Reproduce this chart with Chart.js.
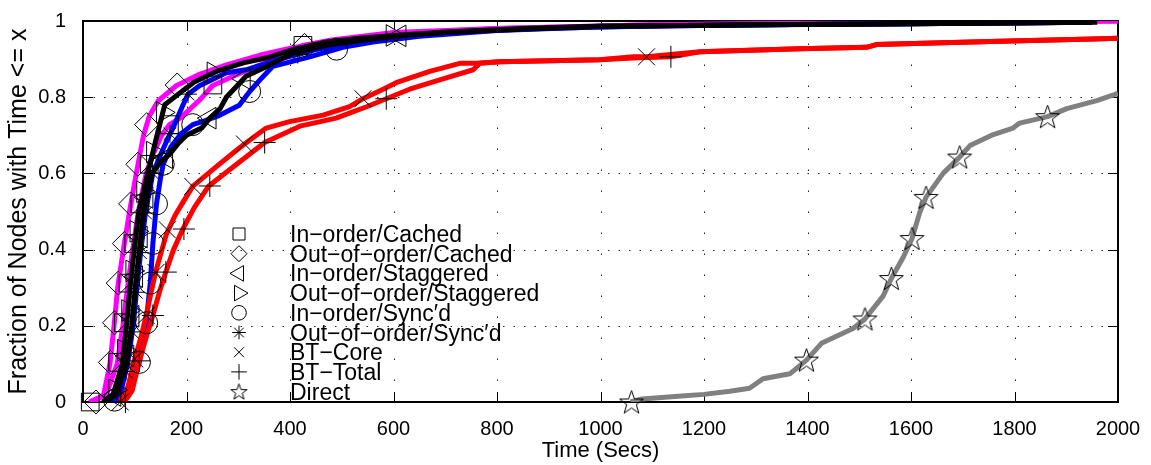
<!DOCTYPE html>
<html><head><meta charset="utf-8">
<script src="https://cdn.jsdelivr.net/npm/chart.js@4/dist/chart.umd.min.js"></script>
<style>html,body{margin:0;padding:0;background:#fff}#wrap{width:1151px;height:465px}</style>
</head><body><div id="wrap"><canvas id="c" width="1151" height="465"></canvas></div>
<script>
// ---------- tick values / labels ----------
const xTickValues = [0,200,400,600,800,1000,1200,1400,1600,1800,2000];
const xTickLabels = ['0','200','400','600','800','1000','1200','1400','1600','1800','2000'];
const yTickValues = [0,0.2,0.4,0.6,0.8,1];
const yTickLabels = ['0','0.2','0.4','0.6','0.8','1'];

// ---------- legend labels ----------
const seriesNames = ['In\u2212order/Cached','Out\u2212of\u2212order/Cached','In\u2212order/Staggered','Out\u2212of\u2212order/Staggered','In\u2212order/Sync\u2032d','Out\u2212of\u2212order/Sync\u2032d','BT\u2212Core','BT\u2212Total','Direct'];

// ---------- series (time in secs, fraction of nodes) ----------
const ioCachedT  = [12,45,66,77,86,96,107,122,135,152,167,188,228,250,290,350,380,425,480,600,800,1100,1500,2000];
const ioCachedF  = [0,0.02,0.1,0.2,0.3,0.4,0.5,0.6,0.65,0.7,0.728,0.745,0.796,0.83,0.855,0.889,0.91,0.936,0.95,0.97,0.98,0.99,0.995,1.0];
const ioCachedMT = [14,67,78,87,98,110,128,167,251,425];
const ioCachedMF = [0,0.104,0.208,0.312,0.416,0.52,0.624,0.728,0.832,0.936];

const oooCachedT  = [22,40,52,60,67,78,90,103,117,128,145,180,225,277,341,405,470,535,650,800,1100,1500,2000];
const oooCachedF  = [0,0.02,0.1,0.2,0.3,0.4,0.5,0.6,0.7,0.75,0.79,0.83,0.86,0.885,0.91,0.93,0.945,0.957,0.97,0.98,0.99,0.995,1.0];
const oooCachedMT = [25,53,61,68,80,92,106,123,182,428];
const oooCachedMF = [0,0.104,0.208,0.312,0.416,0.52,0.624,0.728,0.832,0.936];

const ioStagT  = [44,64,84,94,101,109,117,133,150,167,185,200,230,245,265,277,315,354,405,470,560,612,700,850,1000,1300,1600,1950];
const ioStagF  = [0,0.02,0.1,0.2,0.3,0.4,0.5,0.6,0.63,0.65,0.68,0.7,0.72,0.745,0.77,0.8,0.855,0.88,0.915,0.936,0.953,0.961,0.97,0.979,0.986,0.99,0.993,0.997];
const ioStagMT = [61,86,96,103,112,123,161,245,311,612];
const ioStagMF = [0.017,0.121,0.225,0.329,0.433,0.537,0.641,0.745,0.849,0.961];

const oooStagT  = [38,58,76,84,91,99,108,125,143,158,186,215,262,310,360,405,470,535,600,700,850,1000,1300,1600,1960];
const oooStagF  = [0,0.02,0.1,0.2,0.3,0.4,0.5,0.6,0.7,0.78,0.81,0.84,0.87,0.89,0.905,0.925,0.945,0.955,0.962,0.971,0.98,0.986,0.99,0.993,0.997];
const oooStagMT = [62,79,87,95,103,116,135,154,252,598];
const oooStagMF = [0.032,0.136,0.24,0.344,0.448,0.552,0.656,0.76,0.864,0.962];

const ioSyncT  = [55,80,95,108,116,122,126,130,135,142,150,155,170,190,212,235,260,302,322,345,367,438,502,560,650,800,1000,1300,1600,1950];
const ioSyncF  = [0,0.02,0.06,0.1,0.15,0.2,0.26,0.312,0.416,0.52,0.59,0.624,0.67,0.705,0.728,0.738,0.75,0.779,0.815,0.85,0.881,0.906,0.931,0.945,0.96,0.975,0.985,0.99,0.993,0.997];
const ioSyncMT = [61,109,123,130,135,142,155,212,322,490];
const ioSyncMF = [0.005,0.104,0.208,0.312,0.416,0.52,0.624,0.728,0.815,0.926];

const oooSyncT  = [52,72,86,97,104,112,121,135,148,160,174,193,203,225,277,315,380,450,530,620,750,900,1100,1400,1700,1950];
const oooSyncF  = [0,0.02,0.1,0.2,0.3,0.4,0.5,0.6,0.643,0.68,0.72,0.779,0.808,0.83,0.864,0.872,0.9,0.925,0.945,0.962,0.973,0.981,0.987,0.991,0.994,0.997];
const oooSyncMT = [83,95,103,111,121,135,168,203,415];
const oooSyncMF = [0.08,0.184,0.288,0.392,0.496,0.6,0.704,0.808,0.912];

const btCoreT  = [70,85,100,112,122,132,141,161,178,193,212,257,296,312,354,399,464,515,541,580,605,670,728,760,805,998,1063,1089,1192,1385,1514,1533,1643,1772,1952,2000];
const btCoreF  = [0,0.03,0.113,0.17,0.227,0.29,0.345,0.44,0.49,0.524,0.566,0.617,0.66,0.677,0.719,0.736,0.753,0.775,0.796,0.821,0.838,0.868,0.889,0.889,0.893,0.898,0.906,0.906,0.919,0.927,0.931,0.938,0.942,0.947,0.953,0.955];
const btCoreMT = [72,100,122,141,163,212,312,541,1089];
const btCoreMF = [0,0.113,0.227,0.34,0.452,0.566,0.677,0.796,0.906];

const btTotalT  = [80,95,109,122,135,148,160,175,193,215,243,290,351,419,489,548,586,631,702,754,767,805,998,1063,1136,1192,1385,1514,1533,1643,1772,1952,2000];
const btTotalF  = [0,0.03,0.108,0.17,0.227,0.29,0.341,0.4,0.454,0.51,0.567,0.617,0.681,0.724,0.745,0.775,0.796,0.821,0.851,0.872,0.889,0.893,0.898,0.903,0.906,0.919,0.927,0.931,0.938,0.942,0.947,0.953,0.955];
const btTotalMT = [82,109,135,160,195,245,351,586,1136];
const btTotalMF = [0,0.108,0.227,0.341,0.454,0.567,0.681,0.796,0.906];

const directT  = [1058,1080,1150,1200,1250,1288,1314,1366,1398,1427,1488,1511,1546,1562,1585,1602,1617,1629,1662,1694,1714,1759,1797,1810,1864,1901,1959,2000];
const directF  = [0,0.008,0.015,0.02,0.028,0.036,0.061,0.074,0.11,0.154,0.193,0.218,0.278,0.324,0.38,0.429,0.498,0.537,0.6,0.643,0.673,0.702,0.719,0.732,0.749,0.77,0.791,0.81];
const directMT = [1060,1398,1511,1562,1602,1629,1694,1864];
const directMF = [0,0.11,0.218,0.324,0.429,0.537,0.643,0.749];

// ---------- helpers ----------
const FONT = 'Liberation Sans, Arial, Helvetica, sans-serif';
function makeStar(R){
  const s = Math.ceil(2*R+4), c = document.createElement('canvas');
  c.width = s; c.height = s;
  const g = c.getContext('2d'); g.strokeStyle = '#000'; g.lineWidth = 1;
  g.beginPath();
  for (let k=0;k<10;k++){
    const r = k%2===0 ? R : R*0.4;
    const a = -Math.PI/2 + k*Math.PI/5;
    const px = s/2 + r*Math.cos(a), py = s/2 + r*Math.sin(a) + R*0.08;
    k===0 ? g.moveTo(px,py) : g.lineTo(px,py);
  }
  g.closePath(); g.stroke();
  return c;
}
const starBig = makeStar(12.5), starSmall = makeStar(8.5);
const pts = (T,F) => T.map((t,i)=>({x:t,y:F[i]}));
function lineDS(label,T,F,color,order){
  return {label, data:pts(T,F), showLine:true, borderColor:color, borderWidth:5, pointRadius:0,
          pointHoverRadius:0, fill:false, tension:0, order, borderJoinStyle:'round'};
}
function markDS(label,T,F,style,radius,rotation){
  return {label, data:pts(T,F), showLine:false, pointStyle:style, pointRadius:radius, pointHoverRadius:radius,
          rotation:rotation||0, pointBorderColor:'#000', pointBackgroundColor:'rgba(0,0,0,0)', pointBorderWidth:1,
          order:0, clip:false};
}

const datasets = [
  lineDS(seriesNames[8], directT, directF, '#808080', 6),
  lineDS(seriesNames[1], oooCachedT, oooCachedF, '#ff00ff', 5),
  lineDS(seriesNames[0], ioCachedT, ioCachedF, '#ff00ff', 5),
  lineDS(seriesNames[4], ioSyncT, ioSyncF, '#0000ff', 4),
  lineDS(seriesNames[5], oooSyncT, oooSyncF, '#0000ff', 4),
  lineDS(seriesNames[6], btCoreT, btCoreF, '#ff0000', 3),
  lineDS(seriesNames[7], btTotalT, btTotalF, '#ff0000', 3),
  lineDS(seriesNames[2], ioStagT, ioStagF, '#000000', 2),
  lineDS(seriesNames[3], oooStagT, oooStagF, '#000000', 2),
  markDS('m0', ioCachedMT, ioCachedMF, 'rect', 12.5),
  markDS('m1', oooCachedMT, oooCachedMF, 'rectRot', 12),
  markDS('m2', ioStagMT, ioStagMF, 'triangle', 12.5, -90),
  markDS('m3', oooStagMT, oooStagMF, 'triangle', 12.5, 90),
  markDS('m4', ioSyncMT, ioSyncMF, 'circle', 11),
  markDS('m5', oooSyncMT, oooSyncMF, 'star', 9),
  markDS('m6', btCoreMT, btCoreMF, 'crossRot', 12),
  markDS('m7', btTotalMT, btTotalMF, 'cross', 11),
  markDS('m8', directMT, directMF, starBig, 12),
];

const legendSymbols = [
  {pointStyle:'rect', radius:8.5, rotation:0},
  {pointStyle:'rectRot', radius:8, rotation:0},
  {pointStyle:'triangle', radius:9, rotation:-90},
  {pointStyle:'triangle', radius:9, rotation:90},
  {pointStyle:'circle', radius:7.3, rotation:0},
  {pointStyle:'star', radius:6.8, rotation:0},
  {pointStyle:'crossRot', radius:7, rotation:0},
  {pointStyle:'cross', radius:7.8, rotation:0},
  {pointStyle:starSmall, radius:8.5, rotation:0},
];

const framePlugin = {
  id:'frame',
  beforeDatasetsDraw(chart){
    const {ctx, chartArea:{left,right,top,bottom}, scales:{x,y}} = chart;
    ctx.save();
    ctx.strokeStyle = '#222'; ctx.lineWidth = 1;
    ctx.setLineDash([1.5,19.5]);
    xTickValues.forEach(v=>{
      if (v<=0 || v>=2000) return;
      const px = Math.round(x.getPixelForValue(v))+0.5;
      ctx.beginPath(); ctx.moveTo(px,bottom); ctx.lineTo(px,top); ctx.stroke();
    });
    ctx.setLineDash([1.5,9]);
    yTickValues.forEach(v=>{
      if (v<=0 || v>=1) return;
      const py = Math.round(y.getPixelForValue(v))+0.5;
      ctx.beginPath(); ctx.moveTo(left,py); ctx.lineTo(right,py); ctx.stroke();
    });
    ctx.setLineDash([]);
    ctx.strokeStyle = '#000';
    xTickValues.forEach(v=>{
      const px = Math.round(x.getPixelForValue(v))+0.5;
      ctx.beginPath(); ctx.moveTo(px,bottom); ctx.lineTo(px,bottom-10);
      ctx.moveTo(px,top); ctx.lineTo(px,top+10); ctx.stroke();
    });
    yTickValues.forEach(v=>{
      const py = Math.round(y.getPixelForValue(v))+0.5;
      ctx.beginPath(); ctx.moveTo(left,py); ctx.lineTo(left+10,py);
      ctx.moveTo(right,py); ctx.lineTo(right-10,py); ctx.stroke();
    });
    ctx.lineWidth = 2;
    ctx.strokeRect(left,top,right-left,bottom-top);
    ctx.restore();
  },
  afterDatasetsDraw(chart){
    const ctx = chart.ctx;
    ctx.save();
    const symX = 239, textX = 290, y0 = 234, dy = 19.7;
    ctx.font = '23px ' + FONT;
    ctx.textBaseline = 'alphabetic';
    seriesNames.forEach((name,i)=>{
      const cy = y0 + i*dy;
      ctx.strokeStyle = '#000'; ctx.fillStyle = 'rgba(0,0,0,0)'; ctx.lineWidth = 1;
      Chart.helpers.drawPoint(ctx, Object.assign({borderWidth:1}, legendSymbols[i]), symX, cy);
      ctx.fillStyle = '#000';
      ctx.fillText(name, textX, cy + 8);
    });
    ctx.restore();
  }
};

new Chart(document.getElementById('c'), {
  type:'scatter',
  data:{datasets},
  options:{
    responsive:false, animation:false, devicePixelRatio:1,
    layout:{padding:{top:10,right:33,left:0,bottom:0}},
    plugins:{legend:{display:false}, tooltip:{enabled:false}},
    events:[],
    scales:{
      x:{type:'linear', min:0, max:2000,
        afterBuildTicks:s=>{ s.ticks = xTickValues.map(v=>({value:v})); },
        afterFit:s=>{ s.height = 63; },
        ticks:{callback:(v,i)=>xTickLabels[i], font:{family:FONT,size:20}, color:'#000', padding:7, maxRotation:0, autoSkip:false},
        grid:{display:false}, border:{display:false},
        title:{display:true, text:'Time (Secs)', font:{family:FONT,size:22}, color:'#000', padding:{top:0,bottom:1}}
      },
      y:{type:'linear', min:0, max:1,
        afterBuildTicks:s=>{ s.ticks = yTickValues.map(v=>({value:v})); },
        afterFit:s=>{ s.width = 83; },
        ticks:{callback:(v,i)=>yTickLabels[i], font:{family:FONT,size:20}, color:'#000', padding:9, autoSkip:false},
        grid:{display:false}, border:{display:false},
        title:{display:true, text:'Fraction of Nodes with Time <= x', font:{family:FONT,size:25}, color:'#000', padding:{top:4,bottom:0}}
      }
    }
  },
  plugins:[framePlugin]
});
</script></body></html>
